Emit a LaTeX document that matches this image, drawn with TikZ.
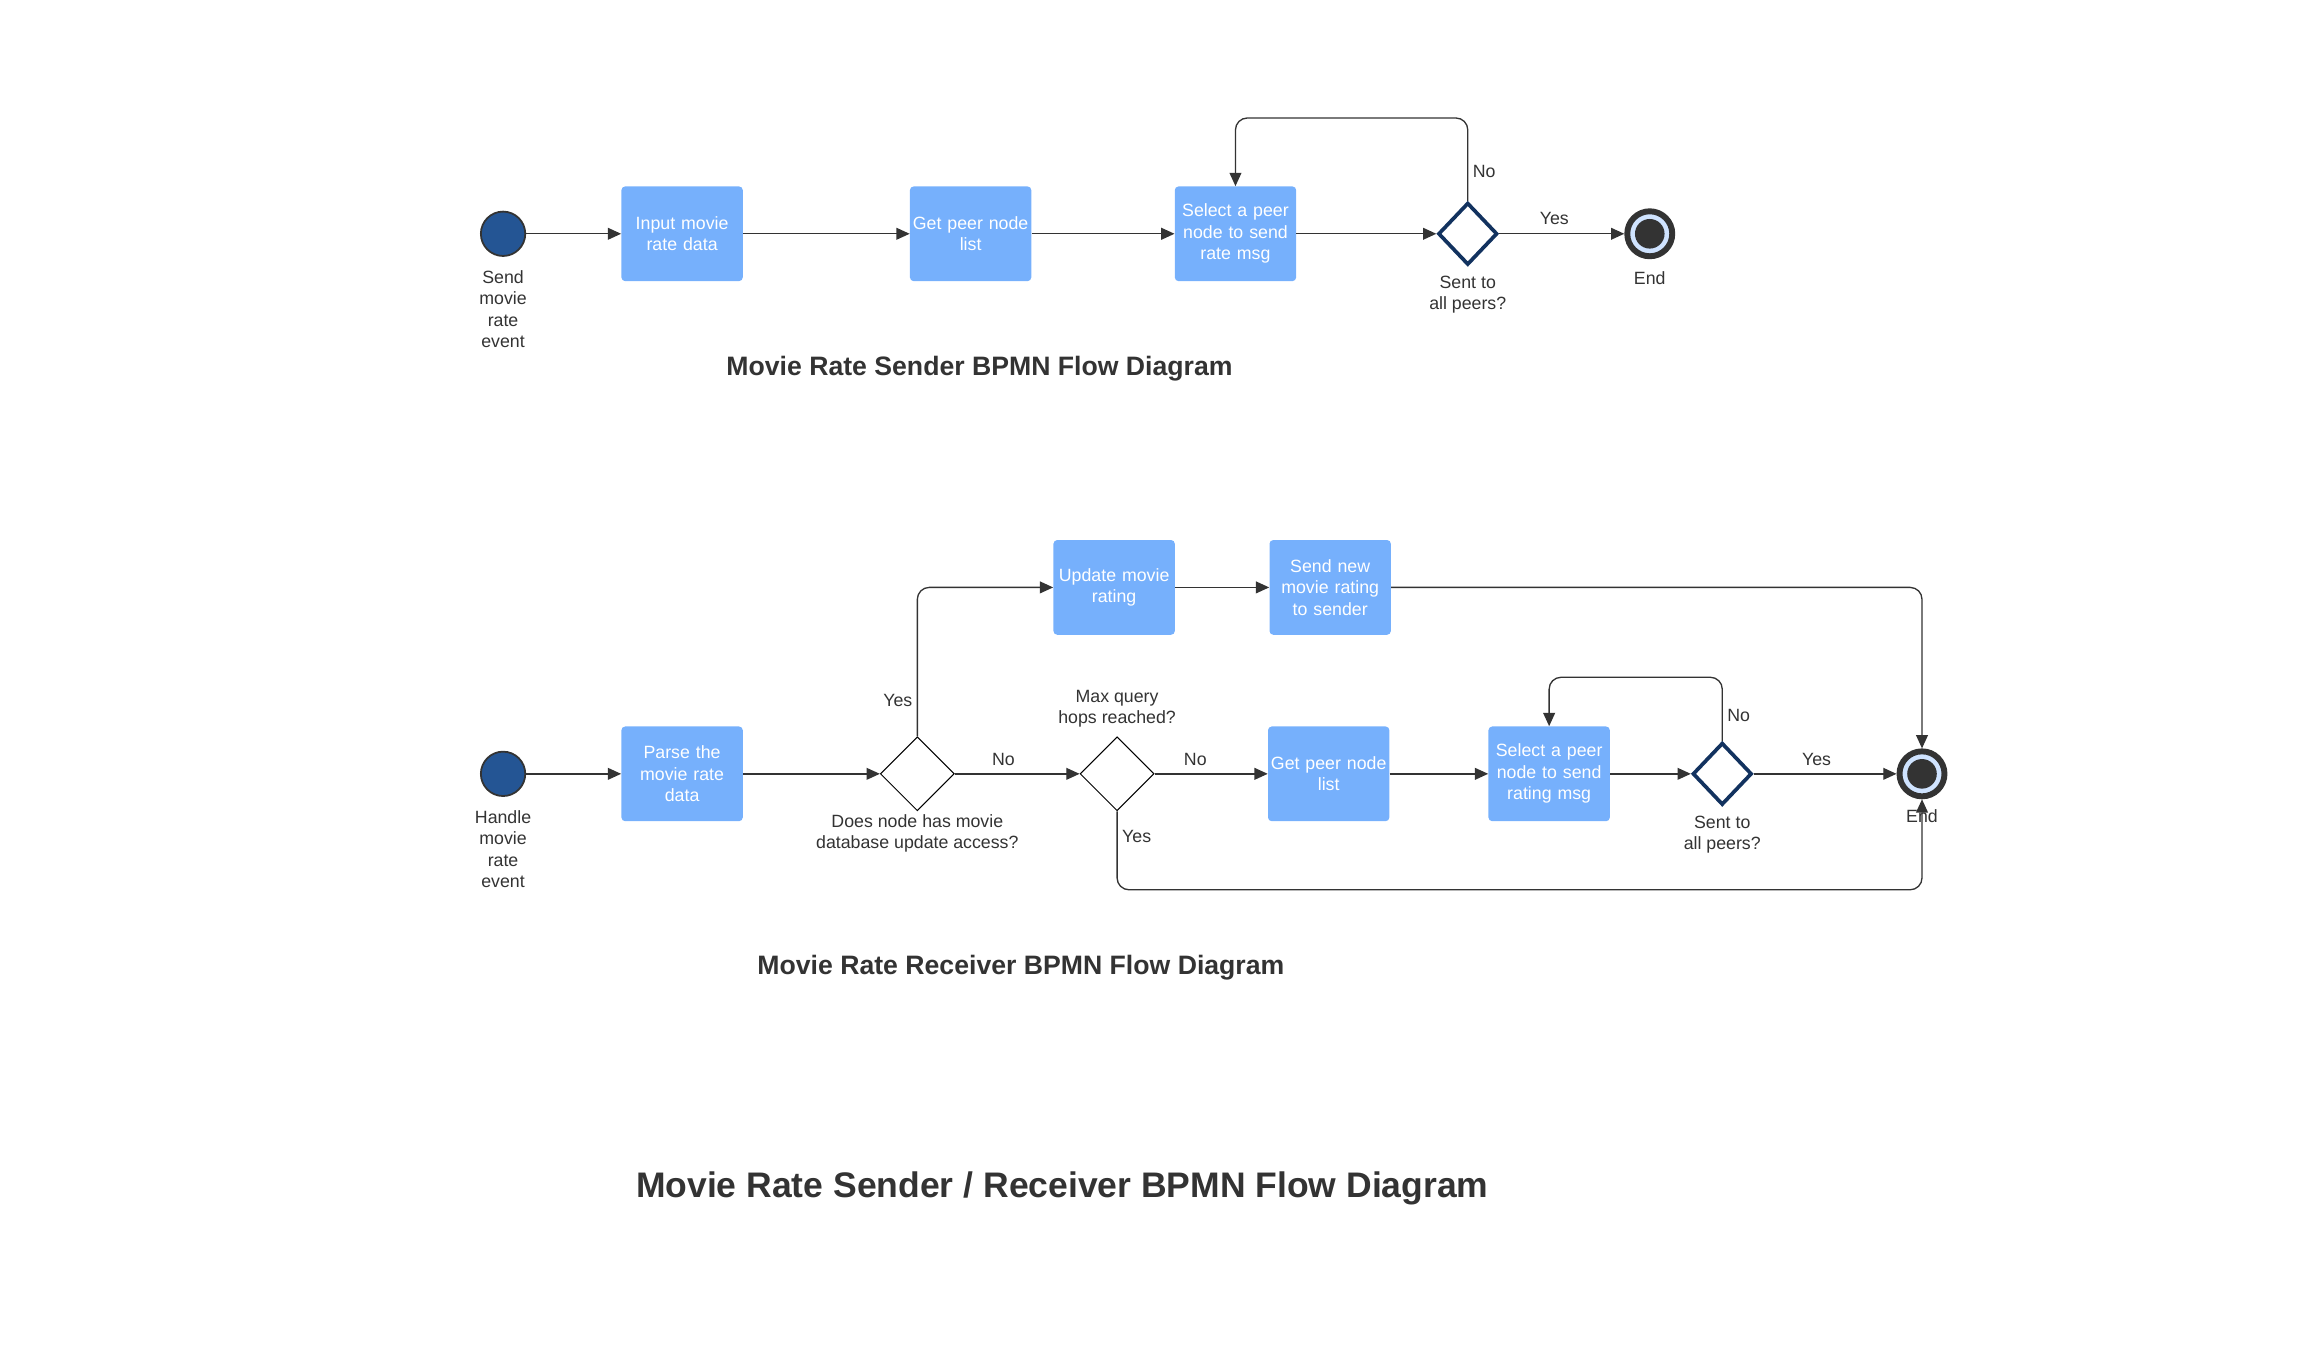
\documentclass[tikz,border=0pt]{standalone}
\usepackage{fontspec}
\setmainfont{Liberation Sans}
\usetikzlibrary{positioning,shapes.geometric,arrows.meta}
\definecolor{ink}{HTML}{333333}
\definecolor{taskblue}{HTML}{76B0FC}
\definecolor{startblue}{HTML}{245594}
\definecolor{gatenavy}{HTML}{12325F}
\definecolor{ringblue}{HTML}{CFE3FF}

\tikzset{
    task/.style={fill=taskblue,rounded corners=2.5pt,minimum width=82pt,minimum height=64pt,
        text width=80pt,align=center,text=white,inner sep=0pt},
    startev/.style={circle,draw=ink,line width=1.2pt,fill=startblue,minimum size=30pt,inner sep=0pt},
    endev/.style={circle,draw=ink,line width=4pt,fill=ringblue,minimum size=30.4pt,inner sep=0pt,
        path picture={\fill[ink] (path picture bounding box.center) circle (10pt);}},
    gate/.style={diamond,draw=gatenavy,line width=2.5pt,fill=white,minimum width=40pt,minimum height=42pt,inner sep=0pt},
    xgate/.style={diamond,draw=black,line width=0.7pt,fill=white,minimum width=50pt,minimum height=50pt,inner sep=0pt},
    note/.style={inner sep=0pt,align=center},
    lbl/.style={inner sep=3pt},
    flow/.style={draw=ink,line width=0.9pt,rounded corners=8pt,-{Triangle[length=9pt,width=8pt]}},
    heading/.style={font=\bfseries\fontsize{18}{21}\selectfont},
    bigheading/.style={font=\bfseries\fontsize{24}{28}\selectfont}
}

\begin{document}
\begin{tikzpicture}[x=1pt,y=-1pt,every node/.style={font=\fontsize{12}{14.5}\selectfont,text=ink}]
    \useasboundingbox (0,0) rectangle (1568,919);

    % sender
    \node[startev] (s0) at (340,158) {};
    \node[note,below=9pt of s0] (s0t) {Send\\movie\\rate\\event};
    \node[task] (s1) at (461,158) {Input movie\\rate data};
    \node[task] (s2) at (656,158) {Get peer node\\list};
    \node[task] (s3) at (835,158) {Select a peer\\node to send\\rate msg};
    \node[gate] (s4) at (992,158) {};
    \node[note,below=6pt of s4] (s4t) {Sent to\\all peers?};
    \node[endev] (s5) at (1115,158) {};
    \node[note,below=8pt of s5] (s5t) {End};
    \node[heading] (st) at (662,249) {Movie Rate Sender BPMN Flow Diagram};

    \draw[flow] (s0) -- (s1);
    \draw[flow] (s1) -- (s2);
    \draw[flow] (s2) -- (s3);
    \draw[flow] (s3) -- (s4);
    \draw[flow] (s4) -- node[lbl,above=3pt,pos=0.44] (s4y) {Yes} (s5);
    \draw[flow] (s4.north) -- node[lbl,right,pos=0.36] (s4n) {No} ++(0,-56) -| (s3.north);

    % receiver
    \node[startev] (r0) at (340,523) {};
    \node[note,below=9pt of r0] (r0t) {Handle\\movie\\rate\\event};
    \node[task] (r1) at (461,523) {Parse the\\movie rate\\data};
    \node[xgate] (r2) at (620,523) {};
    \node[note,below=2pt of r2] (r2t) {Does node has movie\\database update access?};
    \node[xgate] (r3) at (755,523) {};
    \node[note,above=6pt of r3] (r3t) {Max query\\hops reached?};
    \node[task] (r4) at (898,523) {Get peer node\\list};
    \node[task] (r5) at (1047,523) {Select a peer\\node to send\\rating msg};
    \node[gate] (r6) at (1164,523) {};
    \node[note,below=6pt of r6] (r6t) {Sent to\\all peers?};
    \node[endev] (r7) at (1299,523) {};
    \node[task] (u1) at (753,397) {Update movie\\rating};
    \node[task] (u2) at (899,397) {Send new\\movie rating\\to sender};
    \node[heading] (rt) at (690,654) {Movie Rate Receiver BPMN Flow Diagram};

    \draw[flow] (r0) -- (r1);
    \draw[flow] (r1) -- (r2);
    \draw[flow] (r2) -- node[lbl,above=2pt,pos=0.39] (r2n) {No} (r3);
    \draw[flow] (r2.north) |- node[lbl,left,pos=0.12] (r2y) {Yes} (u1);
    \draw[flow] (r3) -- node[lbl,above=2pt,pos=0.36] (r3n) {No} (r4);
    \draw[flow] (r4) -- (r5);
    \draw[flow] (r5) -- (r6);
    \draw[flow] (r6) -- node[lbl,above=2pt,pos=0.44] (r6y) {Yes} (r7);
    \draw[flow] (r6.north) -- node[lbl,right,pos=0.4] (r6n) {No} ++(0,-43) -| (r5.north);
    \draw[flow] (u1) -- (u2);
    \draw[flow] (u2) -| (r7.north);
    \draw[flow] (r3.south) -- node[lbl,right,pos=0.32] (r3y) {Yes} ++(0,53) -| (r7.south);
    \node[note,below=7pt of r7] (r7t) {End};

    \node[bigheading] (mt) at (718,803) {Movie Rate Sender / Receiver BPMN Flow Diagram};
\end{tikzpicture}
\end{document}
